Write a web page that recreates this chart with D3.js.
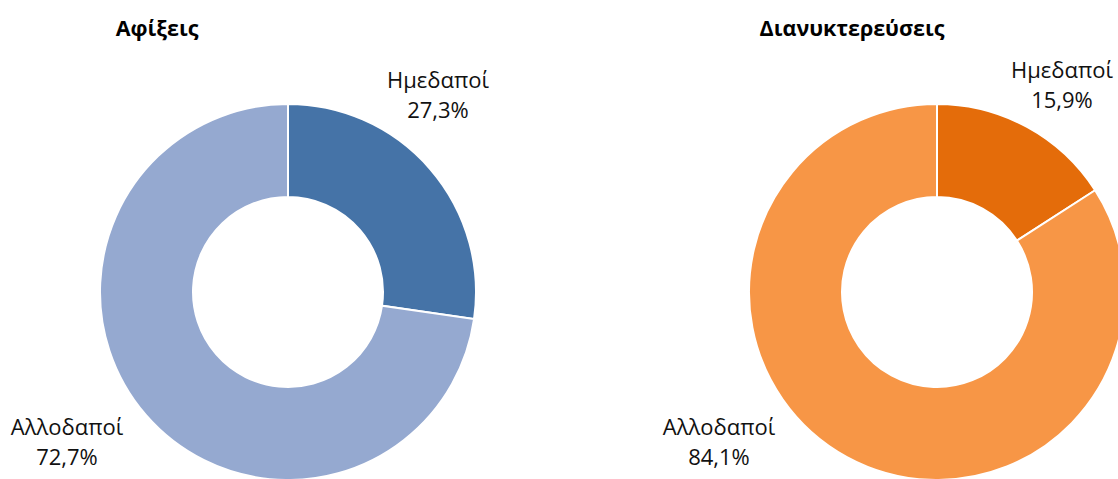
<!DOCTYPE html>
<html>
<head>
<meta charset="utf-8">
<script src="https://cdn.jsdelivr.net/npm/d3@7"></script>
<style>
  body { margin: 0; background: #fff; }
  svg { display: block; font-family: "Open Sans", "Noto Sans", sans-serif; }
</style>
</head>
<body>
<div id="chart"></div>
<script>
// Data
const categories = ['Ημεδαποί', 'Αλλοδαποί']
const arrivals = [27.3, 72.7]
const nights = [15.9, 84.1]

const width = 1118
const height = 479

const svg = d3.select('#chart')
  .append('svg')
  .attr('width', width)
  .attr('height', height)

const fmt = v => d3.format('.1f')(v).replace('.', ',') + '%'

function donut(cx, cy, title, titleX, titleY, values, colors, labelPos) {
  const g = svg.append('g')

  const pie = d3.pie().sort(null).value(d => d)
  const arc = d3.arc().innerRadius(95).outerRadius(188)

  g.append('g')
    .attr('transform', `translate(${cx},${cy})`)
    .selectAll('path')
    .data(pie(values))
    .join('path')
    .attr('d', arc)
    .attr('fill', (d, i) => colors[i])
    .attr('stroke', '#fff')
    .attr('stroke-width', 2)

  g.append('text')
    .attr('x', titleX)
    .attr('y', titleY)
    .attr('text-anchor', 'middle')
    .attr('font-size', 21.5)
    .attr('font-weight', 'bold')
    .text(title)

  // labels
  values.forEach((v, i) => {
    const t = g.append('text')
      .attr('text-anchor', 'middle')
      .attr('font-size', 22)
      .attr('fill', '#111')
    t.append('tspan').attr('x', labelPos[i][0]).attr('y', labelPos[i][1]).text(categories[i])
    t.append('tspan').attr('x', labelPos[i][0]).attr('y', labelPos[i][1] + 30).text(fmt(v))
  })
}

donut(288, 292, 'Αφίξεις', 157, 36, arrivals, ['#4573A7', '#95A9D0'], [[438, 88], [67, 435]])
donut(937, 292, 'Διανυκτερεύσεις', 852, 36, nights, ['#E46C0A', '#F79646'], [[1062, 78], [719, 435]])
</script>
</body>
</html>
